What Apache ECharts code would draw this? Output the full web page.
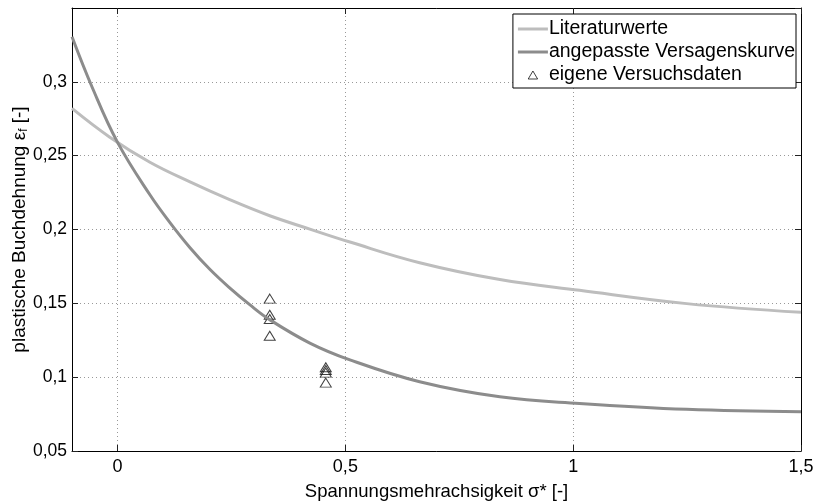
<!DOCTYPE html>
<html>
<head>
<meta charset="UTF-8">
<title>Versagenskurve</title>
<script src="https://cdn.jsdelivr.net/npm/echarts@6/dist/echarts.min.js"></script>
<style>
  html, body { margin: 0; padding: 0; background: #fff; }
  #main { width: 818px; height: 501px; }
</style>
</head>
<body>
<div id="main"></div>
<script>
// Literaturwerte
var litX = [-0.1, -0.017, 0.071, 0.159, 0.246, 0.334, 0.422, 0.51, 0.663, 0.839, 1.014, 1.249, 1.5];
var litY = [0.282, 0.2625, 0.2455, 0.2322, 0.2202, 0.2093, 0.2003, 0.1915, 0.1775, 0.1661, 0.1588, 0.1498, 0.1439];

// angepasste Versagenskurve
var fitX = [-0.1, -0.056, 0, 0.071, 0.115, 0.159, 0.203, 0.246, 0.29, 0.334, 0.422, 0.51, 0.663, 0.839, 1.014, 1.249, 1.5];
var fitY = [0.3305, 0.2965, 0.259, 0.2235, 0.2047, 0.1877, 0.1729, 0.1605, 0.1491, 0.1389, 0.1231, 0.1117, 0.0969, 0.0867, 0.0822, 0.0782, 0.0765];

// eigene Versuchsdaten
var testX = [0.334, 0.334, 0.334, 0.334, 0.457, 0.457, 0.457, 0.457];
var testY = [0.1532, 0.1423, 0.1394, 0.128, 0.1067, 0.1049, 0.1031, 0.0963];

var xTicks = [0, 0.5, 1, 1.5];

function pairs(xs, ys) {
    var out = [];
    for (var i = 0; i < xs.length; i++) out.push([xs[i], ys[i]]);
    return out;
}
function comma(v) {
    return String(+v.toFixed(2)).replace('.', ',');
}

var font = 'Liberation Sans, Arial, sans-serif';
var myChart = echarts.init(document.getElementById('main'));

var tickStyle = { show: true, inside: true, length: 6, lineStyle: { color: '#222', width: 1 } };
var gridStyle = { show: true, lineStyle: { color: '#999', type: [1, 3], width: 1 } };
var blackLine = { show: true, onZero: false, lineStyle: { color: '#000', width: 1 } };
var lineIcon = 'path://M0,0 L30,0 L30,3 L0,3 Z';

myChart.setOption({
    animation: false,
    textStyle: { fontFamily: font },
    grid: { left: 72, right: 17, top: 8, bottom: 50, containLabel: false, outerBoundsMode: 'none' },
    legend: {
        right: 22, top: 14,
        orient: 'vertical',
        align: 'left',
        itemWidth: 30, itemHeight: 8, itemGap: 3,
        padding: [5, 1, 3, 5],
        symbolKeepAspect: true,
        borderColor: '#000', borderWidth: 1, borderRadius: 0,
        backgroundColor: '#fff',
        textStyle: { fontSize: 19.5, color: '#000', fontFamily: font, padding: [0, 0, 0, -4] },
        data: [
            { name: 'Literaturwerte', icon: lineIcon, itemStyle: { color: '#bdbdbd', borderWidth: 0 } },
            { name: 'angepasste Versagenskurve', icon: lineIcon, itemStyle: { color: '#8c8c8c', borderWidth: 0 } },
            {
                name: 'eigene Versuchsdaten',
                icon: 'path://M5,0 L10,8.5 L0,8.5 Z',
                itemStyle: { color: 'rgba(0,0,0,0)', borderColor: '#111', borderWidth: 1 }
            }
        ]
    },
    xAxis: [{
        type: 'value', min: -0.1, max: 1.5,
        name: 'Spannungsmehrachsigkeit σ* [-]',
        nameLocation: 'middle', nameGap: 31, nameMoveOverlap: false,
        nameTextStyle: { fontSize: 18.5, color: '#000' },
        axisLine: blackLine,
        axisTick: Object.assign({ customValues: xTicks }, tickStyle),
        axisLabel: { customValues: xTicks, formatter: comma, fontSize: 18, color: '#000', margin: 7 },
        splitLine: gridStyle
    }, {
        type: 'value', min: -0.1, max: 1.5, position: 'top',
        axisLine: blackLine,
        axisTick: Object.assign({ customValues: xTicks }, tickStyle),
        axisLabel: { show: false },
        splitLine: { show: false }
    }],
    yAxis: [{
        type: 'value', min: 0.05, max: 0.35, interval: 0.05,
        name: 'plastische Buchdehnung ε{sub|f} [-]',
        nameLocation: 'middle', nameGap: 42, nameMoveOverlap: false,
        nameTextStyle: {
            fontSize: 19, color: '#000',
            rich: { sub: { fontSize: 12, verticalAlign: 'bottom', padding: [8, 0, 0, 0] } }
        },
        axisLine: blackLine,
        axisTick: tickStyle,
        axisLabel: { formatter: comma, fontSize: 17.5, color: '#000', margin: 5, showMaxLabel: false },
        splitLine: gridStyle
    }, {
        type: 'value', min: 0.05, max: 0.35, interval: 0.05, position: 'right',
        axisLine: blackLine,
        axisTick: tickStyle,
        axisLabel: { show: false },
        splitLine: { show: false }
    }],
    series: [{
        name: 'Literaturwerte',
        type: 'line',
        data: pairs(litX, litY),
        smooth: 0.4,
        showSymbol: false,
        symbol: 'none',
        color: '#bdbdbd',
        lineStyle: { color: '#bdbdbd', width: 3 }
    }, {
        name: 'angepasste Versagenskurve',
        type: 'line',
        data: pairs(fitX, fitY),
        smooth: 0.4,
        showSymbol: false,
        symbol: 'none',
        color: '#8c8c8c',
        lineStyle: { color: '#8c8c8c', width: 3 }
    }, {
        name: 'eigene Versuchsdaten',
        type: 'scatter',
        data: pairs(testX, testY),
        symbol: 'triangle',
        symbolSize: [11, 9],
        itemStyle: { color: 'rgba(0,0,0,0)', borderColor: '#111', borderWidth: 1 }
    }]
});
</script>
</body>
</html>
